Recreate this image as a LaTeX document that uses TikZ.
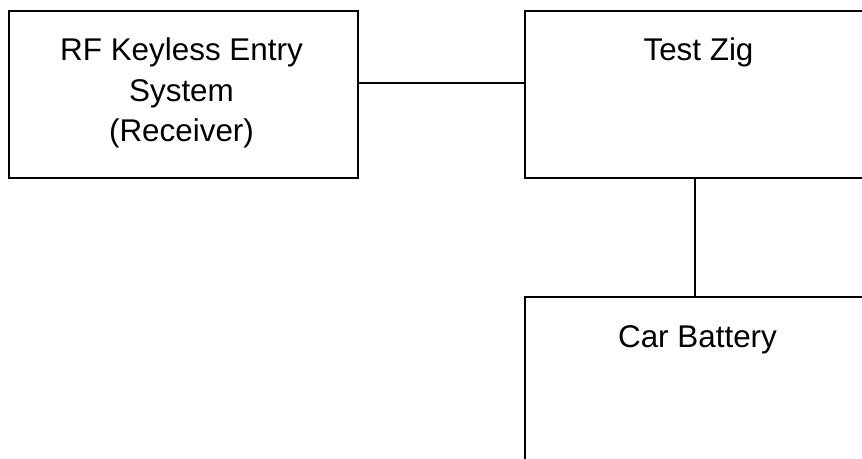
\documentclass[tikz,border=0pt]{standalone}
\usepackage{fontspec}
\setmainfont{Liberation Sans}
\begin{document}
\begin{tikzpicture}[x=0.5pt,y=-0.5pt,
  box/.style={draw=black, line width=1pt, fill=none, inner sep=0pt, anchor=north west, rectangle},
  label/.style={font=\fontsize{15.7pt}{20.25pt}\selectfont, align=center, anchor=base, inner sep=0pt},
  link/.style={draw=black, line width=0.8pt}]
\useasboundingbox (0,0) rectangle (862,459);
\clip (0,0) rectangle (862,459);
\node[box, minimum width=174.5pt, minimum height=83.5pt] (rf) at (7.5,10) {};
\node[box, minimum width=174.5pt, minimum height=83.5pt] (tz) at (524,10) {};
\node[box, minimum width=174.5pt, minimum height=100pt] (cb) at (524,296) {};
\node[label] (rft) at (181.5,141.7) {RF Keyless Entry\\System\\(Receiver)};
\node[label] (tzt) at (698.5,61) {Test Zig};
\node[label] (cbt) at (697.5,348) {Car Battery};
\draw[link] (rf.east |- 0,83) -- (tz.west |- 0,83);
\draw[link] ([xshift=-2.25pt]tz.south) -- ([xshift=-2.25pt]cb.north);
\end{tikzpicture}
\end{document}
